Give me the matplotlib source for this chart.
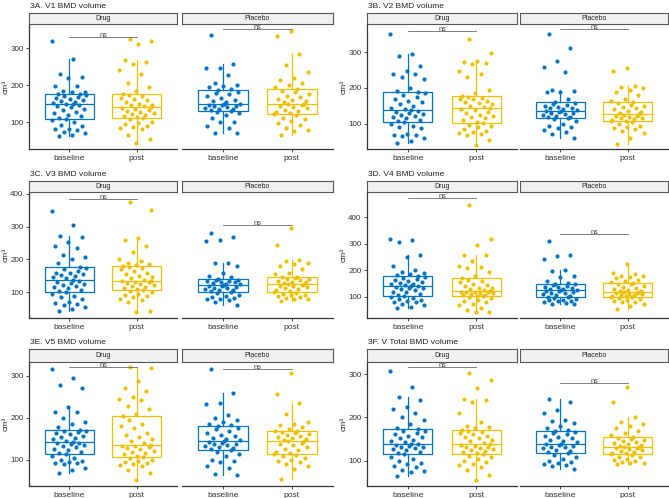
import numpy as np
import matplotlib.pyplot as plt

"""
    BMD volume, baseline vs post, Drug and Placebo
"""

plt.rcParams['font.family'] = ['Liberation Sans', 'DejaVu Sans']

groups = ['baseline', 'post']
arms = ['Drug', 'Placebo']

# 3A. V1
v1_drug_base = [319, 271, 230, 221, 219, 197, 196, 185, 182, 180, 177, 175, 150, 152, 154, 157, 160, 163, 165, 168,
                170, 172, 148, 112, 117, 120, 125, 128, 132, 135, 140, 143, 146, 109, 106, 101, 92, 88, 82, 80,
                78, 74, 70, 66, 63]
v1_drug_post = [325, 318, 312, 267, 262, 258, 240, 230, 205, 195, 183, 175, 142, 145, 147, 150, 155, 160, 163, 166,
                170, 172, 140, 114, 117, 120, 122, 125, 128, 130, 133, 136, 138, 112, 108, 100, 98, 95, 90, 87,
                85, 80, 65, 53, 44]
v1_plac_base = [336, 258, 245, 245, 226, 205, 200, 198, 195, 190, 186, 150, 155, 158, 160, 165, 170, 175, 178, 182,
                148, 132, 134, 136, 138, 140, 142, 144, 145, 147, 130, 127, 125, 120, 110, 100, 100, 90, 83, 70, 69]
v1_plac_post = [345, 332, 285, 253, 235, 220, 213, 205, 200, 195, 188, 153, 157, 160, 163, 167, 170, 175, 180, 185,
                150, 123, 127, 130, 133, 137, 140, 143, 145, 148, 121, 118, 112, 107, 103, 98, 93, 85, 78, 75, 66]

# 3B. V2
v2_drug_base = [349, 295, 290, 262, 248, 240, 238, 230, 225, 200, 192, 188, 141, 145, 150, 155, 160, 165, 170, 175,
                180, 185, 138, 108, 112, 115, 118, 122, 125, 128, 130, 133, 136, 105, 100, 95, 90, 88, 72, 70,
                70, 65, 60, 52, 48]
v2_drug_post = [336, 298, 275, 272, 270, 268, 248, 240, 230, 193, 185, 177, 147, 150, 155, 158, 162, 165, 168, 170,
                173, 175, 144, 105, 110, 115, 118, 122, 126, 130, 134, 138, 141, 101, 98, 95, 90, 85, 80, 77,
                75, 72, 70, 55, 41]
v2_plac_base = [351, 312, 275, 258, 243, 194, 192, 190, 188, 168, 160, 138, 140, 143, 145, 148, 150, 153, 155, 157,
                136, 118, 120, 123, 125, 127, 129, 131, 133, 135, 116, 113, 108, 100, 95, 90, 88, 82, 78, 72, 60]
v2_plac_post = [255, 246, 206, 203, 200, 195, 190, 180, 170, 165, 160, 130, 133, 136, 140, 143, 147, 150, 153, 157,
                127, 109, 111, 113, 115, 117, 119, 121, 123, 125, 107, 104, 100, 95, 90, 88, 85, 80, 75, 62, 45]

# 3C. V3
v3_drug_base = [347, 306, 272, 270, 253, 240, 236, 215, 208, 200, 190, 177, 142, 145, 148, 152, 155, 158, 160, 165,
                170, 173, 138, 104, 108, 112, 117, 120, 122, 125, 128, 132, 135, 100, 95, 88, 85, 80, 70, 68,
                65, 60, 55, 50, 41]
v3_drug_post = [376, 350, 265, 258, 240, 222, 200, 195, 190, 185, 182, 179, 138, 142, 145, 150, 155, 160, 165, 170,
                173, 176, 135, 110, 113, 116, 119, 122, 125, 128, 130, 132, 134, 107, 103, 100, 95, 90, 88, 85,
                80, 75, 70, 42, 38]
v3_plac_base = [280, 268, 260, 255, 190, 188, 180, 160, 150, 145, 139, 124, 126, 128, 130, 132, 133, 135, 136, 137,
                122, 103, 106, 108, 110, 112, 114, 116, 118, 120, 100, 97, 92, 88, 85, 82, 80, 78, 75, 70, 60]
v3_plac_post = [295, 243, 198, 195, 190, 185, 180, 170, 160, 155, 147, 128, 130, 132, 135, 137, 139, 141, 143, 145,
                126, 103, 106, 110, 113, 115, 118, 120, 122, 124, 100, 97, 95, 92, 90, 88, 85, 83, 80, 78, 73]

# 3D. V4
v4_drug_base = [316, 314, 305, 256, 250, 215, 200, 195, 190, 187, 183, 179, 145, 148, 150, 153, 157, 160, 163, 168,
                172, 176, 142, 107, 112, 117, 120, 125, 128, 132, 135, 138, 140, 103, 100, 97, 92, 88, 85, 82,
                80, 75, 70, 63, 59]
v4_drug_post = [446, 319, 295, 258, 256, 236, 216, 212, 210, 195, 178, 170, 125, 128, 132, 135, 140, 145, 150, 155,
                160, 165, 122, 105, 107, 109, 111, 113, 115, 117, 118, 119, 120, 103, 100, 96, 90, 85, 80, 75,
                70, 60, 50, 45, 42]
v4_plac_base = [311, 256, 252, 243, 200, 197, 180, 175, 160, 152, 149, 127, 129, 131, 134, 137, 139, 142, 145, 147,
                125, 100, 103, 106, 110, 113, 116, 119, 121, 123, 98, 95, 92, 90, 88, 85, 83, 80, 78, 74, 72]
v4_plac_post = [224, 190, 185, 180, 178, 175, 170, 165, 160, 157, 154, 121, 124, 127, 131, 135, 139, 143, 147, 150,
                118, 103, 105, 107, 109, 110, 112, 114, 115, 117, 101, 99, 95, 92, 88, 85, 82, 80, 75, 65, 54]

# 3E. V5
v5_drug_base = [317, 296, 279, 270, 226, 215, 213, 200, 190, 185, 178, 172, 146, 149, 152, 155, 158, 161, 164, 166,
                168, 170, 143, 117, 120, 123, 126, 130, 133, 136, 138, 140, 141, 114, 110, 105, 100, 97, 95, 93,
                92, 90, 80, 75, 68]
v5_drug_post = [320, 318, 288, 270, 265, 250, 245, 243, 228, 220, 210, 204, 140, 145, 150, 155, 160, 165, 175, 180,
                185, 195, 136, 110, 113, 116, 119, 122, 125, 128, 130, 132, 134, 107, 104, 100, 98, 95, 93, 90,
                88, 85, 75, 68, 52]
v5_plac_base = [316, 259, 236, 233, 208, 200, 195, 190, 185, 183, 180, 147, 150, 153, 157, 160, 165, 170, 174, 177,
                144, 126, 128, 130, 132, 135, 137, 139, 141, 142, 124, 120, 115, 110, 100, 97, 95, 85, 80, 66, 64]
v5_plac_post = [308, 258, 236, 210, 190, 185, 182, 178, 173, 170, 168, 148, 150, 152, 154, 157, 160, 162, 164, 166,
                146, 117, 120, 124, 127, 131, 135, 138, 141, 144, 114, 112, 110, 105, 100, 98, 95, 90, 85, 78, 55]

# 3F. V Total
vt_drug_base = [308, 271, 248, 240, 225, 220, 210, 200, 195, 185, 175, 173, 143, 146, 149, 152, 155, 158, 162, 165,
                168, 170, 140, 118, 121, 124, 127, 129, 131, 133, 135, 137, 138, 115, 110, 105, 100, 96, 93, 88,
                85, 80, 77, 74, 66]
vt_drug_post = [303, 286, 269, 242, 240, 236, 210, 190, 180, 177, 175, 172, 141, 145, 148, 152, 155, 158, 161, 164,
                167, 170, 138, 117, 120, 123, 125, 127, 129, 131, 133, 135, 136, 115, 112, 108, 105, 100, 97, 93,
                90, 85, 80, 68, 55]
vt_plac_base = [243, 236, 218, 210, 195, 192, 188, 180, 175, 172, 168, 143, 146, 149, 152, 155, 158, 161, 164, 166,
                140, 120, 123, 126, 129, 131, 133, 135, 137, 139, 117, 113, 110, 105, 100, 97, 95, 92, 90, 88, 82]
vt_plac_post = [271, 236, 200, 190, 185, 180, 175, 170, 165, 160, 154, 135, 137, 139, 141, 143, 146, 148, 150, 152,
                133, 117, 119, 121, 123, 125, 127, 129, 130, 131, 115, 113, 110, 108, 105, 103, 100, 98, 96, 95, 93]

titles = ['3A. V1 BMD volume', '3B. V2 BMD volume', '3C. V3 BMD volume',
          '3D. V4 BMD volume', '3E. V5 BMD volume', '3F. V Total BMD volume']
panel_data = [
    [[v1_drug_base, v1_drug_post], [v1_plac_base, v1_plac_post]],
    [[v2_drug_base, v2_drug_post], [v2_plac_base, v2_plac_post]],
    [[v3_drug_base, v3_drug_post], [v3_plac_base, v3_plac_post]],
    [[v4_drug_base, v4_drug_post], [v4_plac_base, v4_plac_post]],
    [[v5_drug_base, v5_drug_post], [v5_plac_base, v5_plac_post]],
    [[vt_drug_base, vt_drug_post], [vt_plac_base, vt_plac_post]],
]

# layout (pixels) and axis settings
ylims = [(27, 365), (30, 378), (21, 406), (21, 494), (38, 333), (42, 328)]
yticks = [[100, 200, 300], [100, 200, 300], [100, 200, 300, 400],
          [100, 200, 300, 400], [100, 200, 300], [100, 200, 300]]
bracket_y = [(330, 351), (359, 363), (386, 306), (473, 337), (320, 316), (317, 280)]
rows = [(13, 24, 149), (181, 192, 318), (349, 362, 486)]
cols = [((29, 177), (182, 333)), ((367, 517), (520, 668))]
ylab_x = [6, 344]

colors = ['#0073C2', '#EFC000']
W, H = 669, 498

fig = plt.figure(figsize=(W / 100, H / 100), dpi=100)


def fax(x0, x1, y0, y1):
    return fig.add_axes([x0 / W, 1 - y1 / H, (x1 - x0) / W, (y1 - y0) / H])


for p in range(6):
    r, c = p // 2, p % 2
    s_top, p_top, p_bot = rows[r]
    for f in range(2):
        x0, x1 = cols[c][f]
        ax = fax(x0, x1, p_top, p_bot)
        for g in range(2):
            vals = np.array(panel_data[p][f][g], dtype=float)
            bp = ax.boxplot(vals, positions=[g + 1], widths=0.72, showfliers=False,
                            patch_artist=True, manage_ticks=False)
            for b in bp['boxes']:
                b.set_facecolor('white')
                b.set_edgecolor(colors[g])
                b.set_linewidth(0.9)
            for k in ['whiskers', 'medians']:
                for ln in bp[k]:
                    ln.set_color(colors[g])
                    ln.set_linewidth(0.9)
            for ln in bp['caps']:
                ln.set_visible(False)
            # deterministic jitter
            idx = np.arange(len(vals))
            off = ((idx * 0.618034 + 0.3 * g + 0.17 * f) % 1.0 - 0.5) * 0.52
            ax.scatter(g + 1 + off, vals, s=9, color=colors[g], linewidths=0, zorder=3)
        by = bracket_y[p][f]
        ax.plot([1, 2], [by, by], color='#6a6a6a', lw=0.6, zorder=4)
        ax.text(1.5, by, 'ns', ha='center', va='baseline', fontsize=5.3, color='#444444')
        ax.set_xlim(0.4, 2.6)
        ax.set_ylim(*ylims[p])
        ax.set_xticks([1, 2])
        ax.set_xticklabels(groups, fontsize=6)
        ax.tick_params(axis='both', length=2.5, width=0.6, pad=1.5, colors='#333333')
        for sp in ['top', 'right']:
            ax.spines[sp].set_visible(False)
        ax.spines['bottom'].set_linewidth(0.9)
        ax.spines['bottom'].set_color('#333333')
        if f == 0:
            ax.set_yticks(yticks[p])
            ax.tick_params(axis='y', labelsize=5.8)
            ax.spines['left'].set_linewidth(0.9)
            ax.spines['left'].set_color('#333333')
        else:
            ax.spines['left'].set_visible(False)
            ax.set_yticks([])
        # facet strip
        sax = fax(x0, x1, s_top, p_top)
        sax.set_facecolor('#F0F0F0')
        sax.set_xticks([])
        sax.set_yticks([])
        for sp in sax.spines.values():
            sp.set_color('#555555')
            sp.set_linewidth(0.8)
        sax.text(0.5, 0.5, arms[f], ha='center', va='center', fontsize=5, color='#222222',
                 transform=sax.transAxes)
    fig.text(ylab_x[c] / W, 1 - (p_top + p_bot) / 2 / H, 'cm³', rotation=90,
             fontsize=6, ha='center', va='center', color='#222222')
    tx = cols[c][0][0] + 1
    fig.text(tx / W, 1 - (s_top - 7) / H, titles[p], fontsize=6, ha='left', va='center', color='#222222')

fig.savefig('out.png', dpi=100)
